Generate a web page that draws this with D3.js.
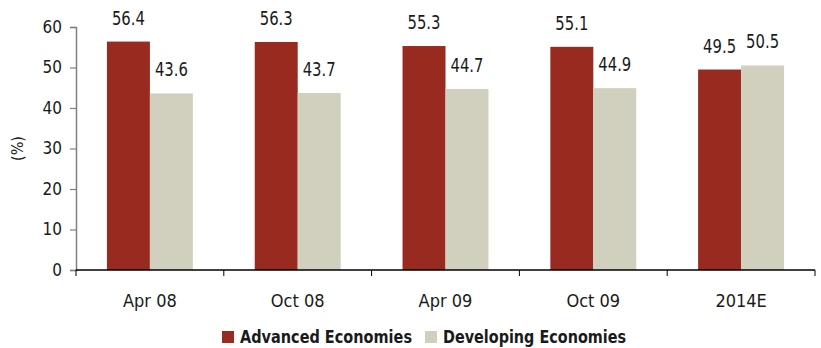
<!DOCTYPE html>
<html>
<head>
<meta charset="utf-8">
<script src="https://cdn.jsdelivr.net/npm/d3@7"></script>
<style>
  html, body { margin: 0; padding: 0; background: #fff; }
  svg text { font-family: "DejaVu Sans Condensed", "Liberation Sans Narrow", "Roboto", sans-serif; fill: #1a1a1a; }
</style>
</head>
<body>
<svg id="chart" width="821" height="348"></svg>
<script>
const categories = ["Apr 08", "Oct 08", "Apr 09", "Oct 09", "2014E"];
const advanced = [56.4, 56.3, 55.3, 55.1, 49.5];
const developing = [43.6, 43.7, 44.7, 44.9, 50.5];
const seriesNames = ["Advanced Economies", "Developing Economies"];
const seriesColors = ["#982a20", "#d1cfbd"];
const yTicks = [0, 10, 20, 30, 40, 50, 60];

const svg = d3.select("#chart");
const margin = { left: 76, right: 6, top: 27, bottom: 78 };
const W = 821, H = 348;

const x = d3.scaleBand().domain(categories)
  .range([margin.left, W - margin.right]).paddingInner(0).paddingOuter(0);
const inner = d3.scaleBand().domain([0, 1])
  .range([0, x.bandwidth()]).paddingInner(0).paddingOuter(0.72);
const y = d3.scaleLinear().domain([0, 60]).range([H - margin.bottom, margin.top]);

// y axis
const yAxis = svg.append("g").attr("transform", `translate(${margin.left},0)`)
  .call(d3.axisLeft(y).tickValues(yTicks).tickSize(6).tickPadding(8));
yAxis.select(".domain").attr("stroke", "#808080").attr("stroke-width", 1.5);
yAxis.selectAll(".tick line").attr("stroke", "#808080").attr("stroke-width", 1.2);
yAxis.selectAll(".tick text").attr("font-size", 17).attr("fill", "#1a1a1a");

svg.append("text")
  .attr("transform", `translate(23,${(y(0) + y(60)) / 2}) rotate(-90)`)
  .attr("text-anchor", "middle").attr("font-size", 16).text("(%)");

// bars
const data = categories.map((c, i) => ({ cat: c, vals: [advanced[i], developing[i]] }));
const groups = svg.append("g").selectAll("g").data(data).join("g")
  .attr("transform", d => `translate(${x(d.cat)},0)`);
groups.selectAll("rect").data(d => d.vals.map((v, k) => ({ v, k }))).join("rect")
  .attr("x", d => inner(d.k)).attr("width", inner.bandwidth())
  .attr("y", d => y(d.v)).attr("height", d => y(0) - y(d.v))
  .attr("fill", d => seriesColors[d.k]);
groups.selectAll("text.val").data(d => d.vals.map((v, k) => ({ v, k }))).join("text")
  .attr("class", "val")
  .attr("x", d => inner(d.k) + inner.bandwidth() / 2)
  .attr("y", d => y(d.v) - 17)
  .attr("text-anchor", "middle").attr("font-size", 19)
  .attr("textLength", 33).attr("lengthAdjust", "spacingAndGlyphs")
  .text(d => d3.format(".1f")(d.v));

// x axis with ticks at category boundaries
const xg = svg.append("g");
xg.append("line").attr("x1", margin.left).attr("x2", W - margin.right)
  .attr("y1", y(0)).attr("y2", y(0)).attr("stroke", "#000").attr("stroke-width", 1.3);
const bounds = categories.map(c => x(c)).concat([x(categories[categories.length - 1]) + x.bandwidth()]);
xg.selectAll("line.b").data(bounds).join("line").attr("class", "b")
  .attr("x1", d => d).attr("x2", d => d).attr("y1", y(0)).attr("y2", y(0) + 6)
  .attr("stroke", "#000").attr("stroke-width", 1);
xg.selectAll("text").data(categories).join("text")
  .attr("x", d => x(d) + x.bandwidth() / 2).attr("y", y(0) + 37)
  .attr("text-anchor", "middle").attr("font-size", 18).text(d => d);

// legend
const legend = svg.append("g");
const legendX = [222, 425];
const legendW = [172, 183];
seriesNames.forEach((name, k) => {
  legend.append("rect").attr("x", legendX[k]).attr("y", 331).attr("width", 12).attr("height", 12)
    .attr("fill", seriesColors[k]);
  legend.append("text").attr("x", legendX[k] + 18).attr("y", 343)
    .attr("font-size", 18).attr("font-weight", "bold")
    .attr("textLength", legendW[k]).attr("lengthAdjust", "spacingAndGlyphs").text(name);
});
</script>
</body>
</html>
